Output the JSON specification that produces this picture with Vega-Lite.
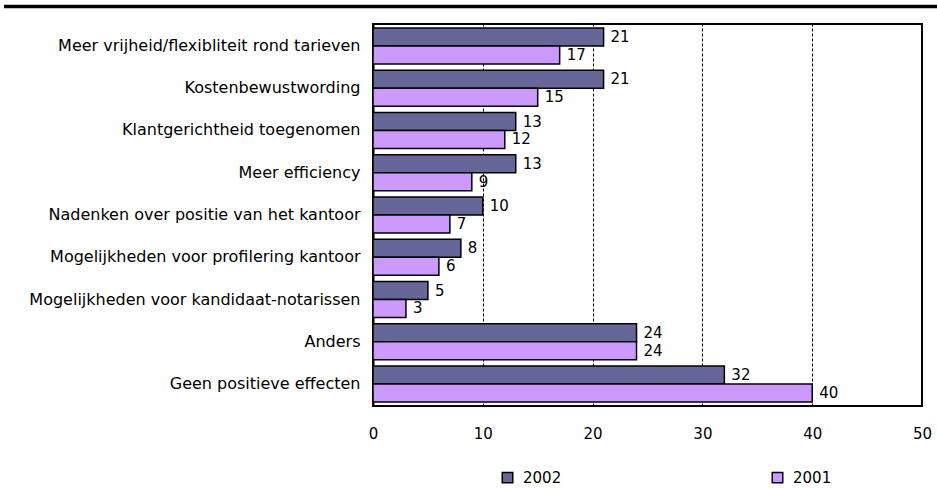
{
  "$schema": "https://vega.github.io/schema/vega-lite/v6.json",
  "width": 549,
  "height": 382,
  "autosize": {"type": "none"},
  "padding": {"left": 373, "top": 24, "right": 15, "bottom": 82},
  "background": "white",
  "config": {
    "font": "DejaVu Sans",
    "view": {"stroke": "black", "strokeWidth": 2}
  },
  "layer": [
    {
      "data": {"values": [{}]},
      "mark": {"type": "rule", "color": "black", "strokeWidth": 3.3},
      "encoding": {
        "x": {"value": -369},
        "x2": {"value": 564},
        "y": {"value": -17.5}
      }
    },
    {
      "data": {
        "values": [
          {"effect": "Meer vrijheid/flexibliteit rond tarieven", "year": "2002", "pct": 21},
          {"effect": "Meer vrijheid/flexibliteit rond tarieven", "year": "2001", "pct": 17},
          {"effect": "Kostenbewustwording", "year": "2002", "pct": 21},
          {"effect": "Kostenbewustwording", "year": "2001", "pct": 15},
          {"effect": "Klantgerichtheid toegenomen", "year": "2002", "pct": 13},
          {"effect": "Klantgerichtheid toegenomen", "year": "2001", "pct": 12},
          {"effect": "Meer efficiency", "year": "2002", "pct": 13},
          {"effect": "Meer efficiency", "year": "2001", "pct": 9},
          {"effect": "Nadenken over positie van het kantoor", "year": "2002", "pct": 10},
          {"effect": "Nadenken over positie van het kantoor", "year": "2001", "pct": 7},
          {"effect": "Mogelijkheden voor profilering kantoor", "year": "2002", "pct": 8},
          {"effect": "Mogelijkheden voor profilering kantoor", "year": "2001", "pct": 6},
          {"effect": "Mogelijkheden voor kandidaat-notarissen", "year": "2002", "pct": 5},
          {"effect": "Mogelijkheden voor kandidaat-notarissen", "year": "2001", "pct": 3},
          {"effect": "Anders", "year": "2002", "pct": 24},
          {"effect": "Anders", "year": "2001", "pct": 24},
          {"effect": "Geen positieve effecten", "year": "2002", "pct": 32},
          {"effect": "Geen positieve effecten", "year": "2001", "pct": 40}
        ]
      },
      "encoding": {
        "y": {
          "field": "effect",
          "type": "nominal",
          "sort": null,
          "scale": {"paddingInner": 0.15, "paddingOuter": 0.095},
          "axis": {
            "title": null,
            "domain": true,
            "domainColor": "black",
            "domainWidth": 2,
            "ticks": false,
            "grid": false,
            "labelFontSize": 16,
            "labelColor": "black",
            "labelPadding": 13,
            "labelLimit": 0
          }
        },
        "yOffset": {"field": "year", "type": "nominal", "sort": ["2002", "2001"], "scale": {"paddingInner": 0, "paddingOuter": 0}},
        "x": {
          "field": "pct",
          "type": "quantitative",
          "scale": {"domain": [0, 50], "nice": false, "zero": true},
          "axis": {
            "title": null,
            "values": [0, 10, 20, 30, 40, 50],
            "domain": false,
            "ticks": false,
            "grid": true,
            "gridColor": "black",
            "gridDash": [3, 2],
            "gridWidth": 1,
            "labelFontSize": 15,
            "labelColor": "black",
            "labelPadding": 20,
            "labelFlush": false
          }
        }
      },
      "layer": [
        {
          "mark": {"type": "bar", "stroke": "black", "strokeWidth": 1.5},
          "encoding": {
            "color": {
              "field": "year",
              "type": "nominal",
              "scale": {"domain": ["2002", "2001"], "range": ["#666699", "#CC99FF"]},
              "legend": {
                "title": null,
                "orient": "none",
                "legendX": 127,
                "legendY": 446,
                "direction": "horizontal",
                "columns": 2,
                "columnPadding": 207,
                "symbolType": "square",
                "symbolSize": 110,
                "symbolStrokeColor": "black",
                "symbolStrokeWidth": 1.5,
                "labelFontSize": 15,
                "labelColor": "black",
                "labelOffset": 8
              }
            }
          }
        },
        {
          "mark": {"type": "text", "align": "left", "baseline": "middle", "dx": 7, "fontSize": 15, "color": "black"},
          "encoding": {"text": {"field": "pct", "type": "quantitative"}}
        }
      ]
    }
  ]
}
